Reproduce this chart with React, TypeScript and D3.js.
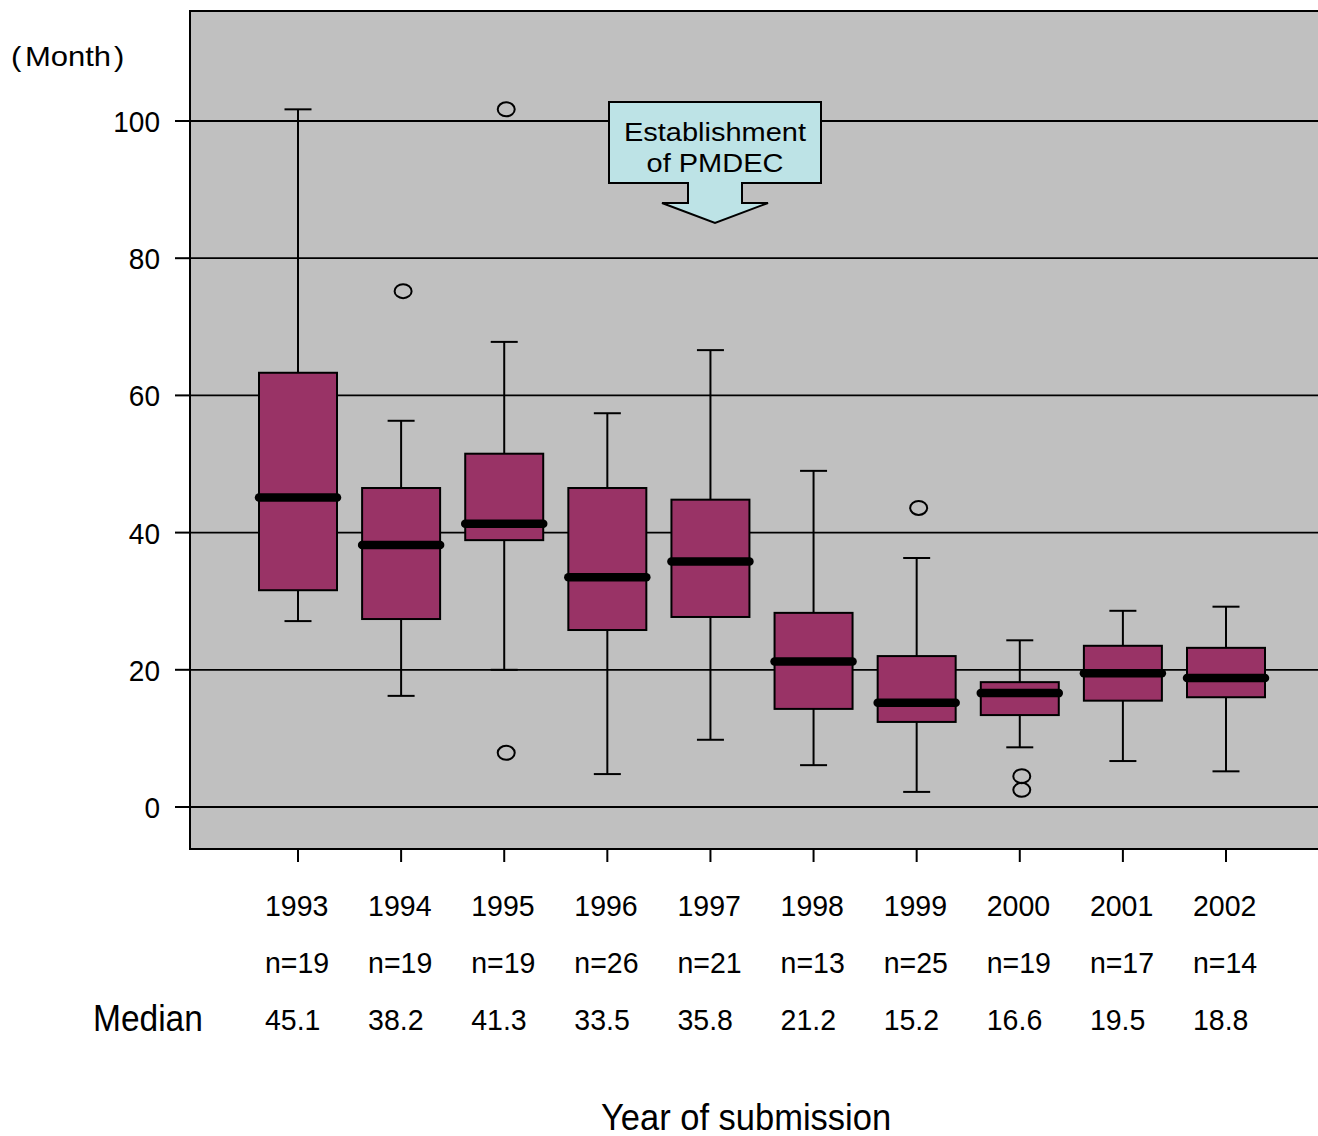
import * as d3 from "d3";

const YEARS = ["1993", "1994", "1995", "1996", "1997", "1998", "1999", "2000", "2001", "2002"];
const COUNTS = [19, 19, 19, 26, 21, 13, 25, 19, 17, 14];
const MEDIAN_LABELS = ["45.1", "38.2", "41.3", "33.5", "35.8", "21.2", "15.2", "16.6", "19.5", "18.8"];
const MEDIANS = [45.1, 38.2, 41.3, 33.5, 35.8, 21.2, 15.2, 16.6, 19.5, 18.8];
const Q1 = [31.6, 27.4, 38.9, 25.8, 27.7, 14.3, 12.4, 13.4, 15.5, 16.0];
const Q3 = [63.3, 46.5, 51.5, 46.5, 44.8, 28.3, 22.0, 18.2, 23.5, 23.2];
const LOW = [27.1, 16.2, 20.0, 4.8, 9.8, 6.1, 2.2, 8.7, 6.7, 5.2];
const HIGH = [101.7, 56.3, 67.8, 57.4, 66.6, 49.0, 36.3, 24.3, 28.6, 29.2];
const OUTLIERS: [string, number][] = [
  ["1994", 75.2], ["1995", 101.7], ["1995", 7.9], ["1999", 43.6], ["2000", 4.5], ["2000", 2.5],
];
const Y_TICKS = [0, 20, 40, 60, 80, 100];

const FONT = "'Liberation Sans', Arial, sans-serif";
const PLUM = "#993366";

function T({ x, y, size, sy = 1, anchor = "start", children, family = FONT }:
  { x: number; y: number; size: number; sy?: number; anchor?: string; children: any; family?: string }) {
  return (
    <text transform={`translate(${x},${y}) scale(1,${sy})`} fontSize={size} fontFamily={family}
      textAnchor={anchor} fill="#000">{children}</text>
  );
}

export default function App() {
  const W = 1318, H = 1136;
  const plot = { l: 190, t: 11, r: 1320, b: 849 };
  const y = d3.scaleLinear().domain([0, 100]).range([807, 121]);
  const x = d3.scalePoint<string>().domain(YEARS).range([298, 1226]);
  const bw = 78, cap = 13.5;

  const data = YEARS.map((yr, i) => ({ yr, q1: Q1[i], q3: Q3[i], med: MEDIANS[i], lo: LOW[i], hi: HIGH[i] }));

  return (
    <div style={{ position: "absolute", left: 0, top: 0 }}>
      <svg width={W} height={H} style={{ display: "block", background: "#fff" }}>
        <rect x={plot.l} y={plot.t} width={plot.r - plot.l} height={plot.b - plot.t} fill="#C0C0C0" stroke="#000" strokeWidth={2} />
        {Y_TICKS.map(v => (
          <g key={v}>
            <line x1={plot.l} x2={plot.r} y1={y(v)} y2={y(v)} stroke="#000" strokeWidth={1.8} />
            <line x1={175} x2={plot.l} y1={y(v)} y2={y(v)} stroke="#000" strokeWidth={2} />
            <T x={160} y={y(v) + 11} size={28} sy={1.08} anchor="end">{v}</T>
          </g>
        ))}

        {data.map(d => {
          const cx = x(d.yr)!;
          return (
            <g key={d.yr}>
              <line x1={cx} x2={cx} y1={y(d.hi)} y2={y(d.q3)} stroke="#000" strokeWidth={2} />
              <line x1={cx} x2={cx} y1={y(d.q1)} y2={y(d.lo)} stroke="#000" strokeWidth={2} />
              <line x1={cx - cap} x2={cx + cap} y1={y(d.hi)} y2={y(d.hi)} stroke="#000" strokeWidth={2} />
              <line x1={cx - cap} x2={cx + cap} y1={y(d.lo)} y2={y(d.lo)} stroke="#000" strokeWidth={2} />
              <rect x={cx - bw / 2} y={y(d.q3)} width={bw} height={y(d.q1) - y(d.q3)} fill={PLUM} stroke="#000" strokeWidth={2} />
              <line x1={cx - bw / 2} x2={cx + bw / 2} y1={y(d.med)} y2={y(d.med)} stroke="#000" strokeWidth={8.5} strokeLinecap="round" />
              <line x1={cx} x2={cx} y1={plot.b} y2={plot.b + 13} stroke="#000" strokeWidth={2} />
            </g>
          );
        })}

        {OUTLIERS.map(([yr, v], i) => (
          <ellipse key={i} cx={x(yr)! + 2} cy={y(v)} rx={8.5} ry={7} fill="none" stroke="#000" strokeWidth={2} />
        ))}

        {/* annotation */}
        <path d="M609,102 H821 V183 H742 V203 H768 L715,223 L662,203 H688 V183 H609 Z"
          fill="#BDE3E6" stroke="#000" strokeWidth={2} strokeLinejoin="miter" />
        <T x={715} y={141} size={29} sy={0.9} anchor="middle">Establishment</T>
        <T x={715} y={172} size={29} sy={0.9} anchor="middle">of PMDEC</T>

        <text transform="translate(0,66) scale(1,0.92)" fontSize={31} fontFamily={FONT} fill="#000">
          <tspan x={11}>(</tspan><tspan x={25}>Month</tspan><tspan x={114}>)</tspan>
        </text>

        {YEARS.map((yr, i) => {
          const cx = x(yr)!;
          return (
            <g key={yr}>
              <T x={cx - 33} y={916} size={28.5} sy={1.06}>{yr}</T>
              <T x={cx - 33} y={973} size={28.5} sy={1.06}>{`n=${COUNTS[i]}`}</T>
              <T x={cx - 33} y={1030} size={28.5} sy={1.06}>{MEDIAN_LABELS[i]}</T>
            </g>
          );
        })}
        <T x={93} y={1031} size={33.5} sy={1.1}>Median</T>
        <T x={746} y={1130} size={34.5} sy={1.05} anchor="middle">Year of submission</T>
      </svg>
    </div>
  );
}
